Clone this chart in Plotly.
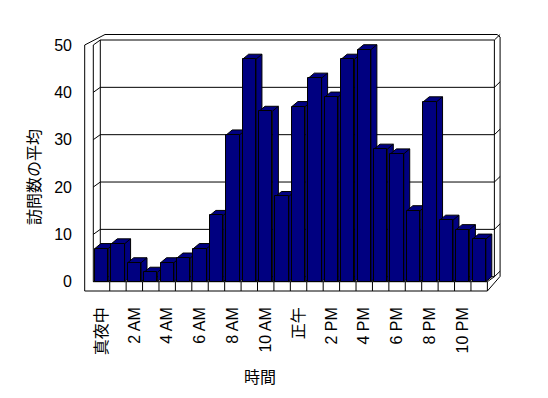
import plotly.graph_objects as go

# ---------------- data ----------------
categories = ["真夜中", "1 AM", "2 AM", "3 AM", "4 AM", "5 AM", "6 AM", "7 AM",
              "8 AM", "9 AM", "10 AM", "11 AM", "正午", "1 PM", "2 PM", "3 PM",
              "4 PM", "5 PM", "6 PM", "7 PM", "8 PM", "9 PM", "10 PM", "11 PM"]
visits = [7, 8, 4, 2, 4, 5, 7, 14, 31, 47, 36, 18,
          37, 43, 39, 47, 49, 28, 27, 15, 38, 13, 11, 9]
y_ticks = [0, 10, 20, 30, 40, 50]
x_title = "時間"
y_title = "訪問数の平均"

# ---------------- geometry (pixels) ----------------
W, H = 548, 398
L, R, T, B = 80, 505, 30, 295          # plot-area box in page pixels
X0_PX = 93.3                            # front edge of category -0.5
CAT_PX = 16.42                          # pixels per category
ZERO_PX = 281.7                         # pixel row of value 0 (front)
VAL_PX = 4.734                          # pixels per value unit

def px_x(px):
    return -0.5 + (px - X0_PX) / CAT_PX

def px_y(py):
    return (ZERO_PX - py) / VAL_PX

def ddx(p):
    return p / CAT_PX

def ddy(p):
    return p / VAL_PX

n = len(categories)
xs = list(range(n))
x_rng = [px_x(L), px_x(R)]
y_rng = [px_y(B), px_y(T)]

BAR_W = 0.81
BAR_DX, BAR_DY = ddx(6), ddy(5)        # bar depth projection
WALL_DX, WALL_DY = ddx(7), ddy(5)      # wall depth projection
SLAB_DX, SLAB_DY = ddx(5.7), ddy(5.5)  # back wall thickness
LEFT_T = ddx(8.6)                      # left wall thickness
FLOOR_T = ddy(9.3)                     # floor thickness

x_left = -0.5
x_right = n - 0.5
y_top = max(y_ticks)

NAVY = "#000080"
BLACK = "#000000"

fig = go.Figure()

# ---------------- frame (walls / floor) as shapes ----------------
shapes = []

def seg(x1, y1, x2, y2):
    shapes.append(dict(type="line", xref="x", yref="y", x0=x1, y0=y1, x1=x2, y1=y2,
                       line=dict(color=BLACK, width=1), layer="below"))

bx_l = x_left + WALL_DX
bx_r = x_right + WALL_DX
# outer silhouette
ox_l = x_left - LEFT_T
oy_b = -FLOOR_T
seg(ox_l, oy_b, ox_l, y_top)
seg(ox_l, y_top, bx_l + SLAB_DX - ddx(1), y_top + WALL_DY + SLAB_DY)
seg(bx_l + SLAB_DX - ddx(1), y_top + WALL_DY + SLAB_DY, bx_r + SLAB_DX - ddx(3), y_top + WALL_DY + SLAB_DY)
seg(bx_r + SLAB_DX - ddx(3), y_top + WALL_DY + SLAB_DY, bx_r + SLAB_DX, y_top + WALL_DY + SLAB_DY - ddy(2.5))
seg(bx_r + SLAB_DX, y_top + WALL_DY + SLAB_DY - ddy(2.5), bx_r + SLAB_DX, WALL_DY + ddy(0.3))
seg(bx_r + SLAB_DX, WALL_DY + ddy(0.3), x_right, oy_b)
seg(x_right, oy_b, ox_l, oy_b)
# left wall inner face (front axis)
seg(x_left, 0, x_left, y_top)
# back wall inner rectangle
seg(bx_l, y_top + WALL_DY, bx_r, y_top + WALL_DY)
seg(bx_r, y_top + WALL_DY, bx_r, WALL_DY)
seg(bx_l, WALL_DY, bx_r, WALL_DY)
seg(bx_l, WALL_DY, bx_l, y_top + WALL_DY)
# floor
seg(x_left, 0, x_right, 0)
seg(x_right, 0, bx_r, WALL_DY)
seg(x_right, 0, x_right, oy_b)
for k in range(1, n):
    seg(k - 0.5, 0, k - 0.5, oy_b)
# gridlines on the back wall + connectors on the side walls
for v in y_ticks:
    seg(x_left, v, bx_l, v + WALL_DY)
    seg(bx_r, v + WALL_DY, bx_r + SLAB_DX, v + WALL_DY + SLAB_DY)
    if 0 < v < y_top:
        seg(bx_l, v + WALL_DY, bx_r, v + WALL_DY)

# ---------------- bar depth faces (top + side), left to right ----------------
for i, v in enumerate(visits):
    xl = xs[i] - BAR_W / 2
    xr = xs[i] + BAR_W / 2
    px = [xl, xl + BAR_DX, xr + BAR_DX, xr + BAR_DX, xr, xr, xl, None, xr, xr + BAR_DX]
    py = [v, v + BAR_DY, v + BAR_DY, BAR_DY, 0, v, v, None, v, v + BAR_DY]
    fig.add_trace(go.Scatter(
        x=px, y=py, mode="lines", fill="toself", fillcolor=NAVY,
        line=dict(color=BLACK, width=1), hoverinfo="skip", showlegend=False,
        xaxis="x", yaxis="y"))

# ---------------- bar front faces ----------------
fig.add_trace(go.Bar(
    x=xs, y=visits, width=BAR_W, customdata=categories,
    marker=dict(color=NAVY, line=dict(color=BLACK, width=1)),
    hovertemplate="%{customdata}: %{y}<extra></extra>",
    showlegend=False, xaxis="x2", yaxis="y2"))

LATIN = "Liberation Sans, Arial, Noto Sans CJK JP"
CJK = "Noto Sans CJK JP, Liberation Sans"

fig.update_layout(
    width=W, height=H,
    margin=dict(l=L, r=W - R, t=T, b=H - B, pad=0),
    paper_bgcolor="white", plot_bgcolor="white",
    shapes=shapes,
    bargap=0,
    xaxis=dict(range=x_rng, showgrid=False, zeroline=False, showline=False,
               tickmode="array", tickvals=xs[::2],
               ticktext=categories[::2],
               tickangle=-90, ticks="", ticklabelstandoff=8,
               tickfont=dict(family=LATIN, size=16, color=BLACK), fixedrange=True),
    yaxis=dict(range=y_rng, showgrid=False, zeroline=False, showline=False,
               tickmode="array", tickvals=y_ticks, ticks="", ticklabelstandoff=7,
               tickfont=dict(family=LATIN, size=16, color=BLACK), fixedrange=True),
    xaxis2=dict(range=x_rng, overlaying="x", visible=False, fixedrange=True),
    yaxis2=dict(range=y_rng, overlaying="y", visible=False, fixedrange=True),
    annotations=[
        dict(text=x_title, xref="paper", yref="paper",
             x=(260 - L) / (R - L), y=(B - 376) / (B - T),
             showarrow=False, xanchor="center", yanchor="middle",
             font=dict(family=CJK, size=16, color=BLACK)),
        dict(text=y_title, xref="paper", yref="paper",
             x=(33 - L) / (R - L), y=(B - 177) / (B - T), textangle=-90,
             showarrow=False, xanchor="center", yanchor="middle",
             font=dict(family=CJK, size=16, color=BLACK)),
    ],
)

fig.write_html("out.html")
